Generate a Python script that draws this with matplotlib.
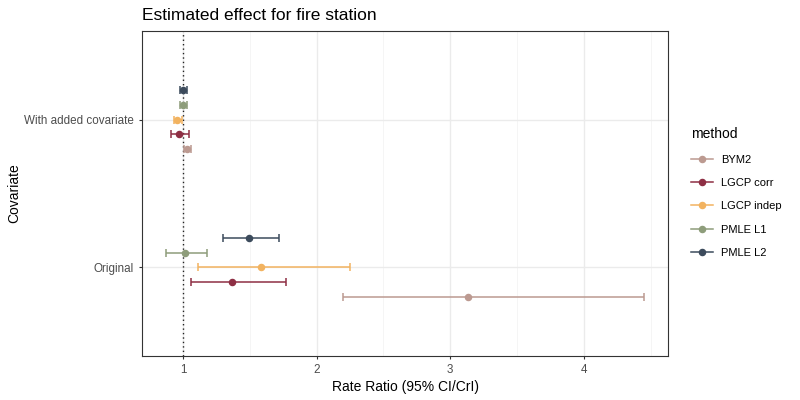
import numpy as np
import matplotlib.pyplot as plt
from matplotlib.lines import Line2D

plt.rcParams['font.family'] = ['Liberation Sans', 'DejaVu Sans']

# data
covariates = ["Original", "With added covariate"]
methods = ["BYM2", "LGCP corr", "LGCP indep", "PMLE L1", "PMLE L2"]
colors = ["#BC9A91", "#8E2F44", "#F2B360", "#8E9D7B", "#3C4B5C"]

est_original = [3.136, 1.368, 1.584, 1.013, 1.494]
low_original = [2.196, 1.063, 1.113, 0.872, 1.300]
upp_original = [4.451, 1.773, 2.249, 1.181, 1.720]

est_covariate = [1.030, 0.970, 0.953, 1.000, 1.000]
low_covariate = [1.010, 0.908, 0.930, 0.975, 0.975]
upp_covariate = [1.060, 1.042, 0.990, 1.030, 1.030]

est = np.array([est_original, est_covariate])
low = np.array([low_original, low_covariate])
upp = np.array([upp_original, upp_covariate])

fig = plt.figure(figsize=(8, 4), dpi=100)
ax = fig.add_axes([0.1775, 0.11, 0.8350 - 0.1775, 0.9225 - 0.11])

offsets = np.linspace(-0.2, 0.2, len(methods))
ypos = np.arange(1, len(covariates) + 1)

for j, (m, c) in enumerate(zip(methods, colors)):
    y = ypos + offsets[j]
    e = est[:, j]
    ax.errorbar(e, y, xerr=[e - low[:, j], upp[:, j] - e], fmt='none',
                ecolor=c, elinewidth=1.1, capsize=2.6, capthick=1.1, zorder=3)
    ax.plot(e, y, 'o', color=c, ms=4.4, zorder=4)

ax.axvline(1, color='#222222', ls=(0, (1, 2.2)), lw=1.0, zorder=2)

ax.set_xlim(0.693, 4.63)
ax.set_ylim(0.4, 2.6)
ax.set_xticks([1, 2, 3, 4])
ax.set_xticks([1.5, 2.5, 3.5, 4.5], minor=True)
ax.set_yticks(ypos)
ax.set_yticklabels(covariates)
ax.set_yticks([], minor=True)

ax.grid(True, which='major', color='#EBEBEB', lw=1.0, zorder=0)
ax.grid(True, which='minor', axis='x', color='#F4F4F4', lw=0.6, zorder=0)
ax.set_axisbelow(True)
for s in ax.spines.values():
    s.set_color('#333333')
    s.set_linewidth(0.8)
ax.tick_params(which='major', colors='#333333', labelcolor='#4D4D4D',
               labelsize=8.4, length=2.5, width=0.8)
ax.tick_params(which='minor', length=0)

ax.set_xlabel("Rate Ratio (95% CI/CrI)", fontsize=10, labelpad=3)
ax.set_ylabel("Covariate", fontsize=10, labelpad=2)
ax.set_title("Estimated effect for fire station", fontsize=12.5, loc='left', pad=8)

handles = [Line2D([0], [0], color=c, lw=1.1, marker='o', ms=4.4) for c in colors]
fig.legend(handles, methods, loc='upper left', bbox_to_anchor=(0.851, 0.707),
           frameon=False, fontsize=8, title="method", title_fontsize=10,
           handlelength=2.0, handletextpad=0.7, labelspacing=1.2,
           alignment='left')

fig.savefig("out.png", dpi=100)
